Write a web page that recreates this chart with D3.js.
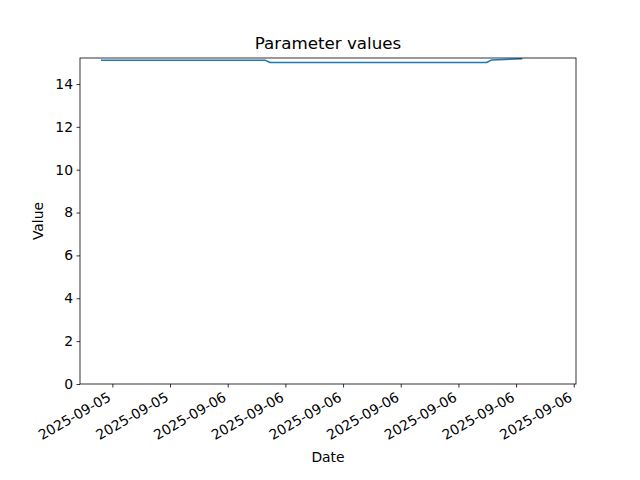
<!DOCTYPE html>
<html>
<head>
<meta charset="utf-8">
<script src="https://cdn.jsdelivr.net/npm/d3@7"></script>
<style>
  html, body { margin: 0; padding: 0; background: #fff; }
  text { font-family: "DejaVu Sans", sans-serif; fill: #000; }
</style>
</head>
<body>
<svg id="chart" width="640" height="480"></svg>
<script>
// ---- data ----
const times = [
  "2025-09-05 17:27",
  "2025-09-06 01:58",
  "2025-09-06 02:12",
  "2025-09-06 13:28",
  "2025-09-06 13:44",
  "2025-09-06 15:17"
];
const values = [15.1, 15.1, 15.0, 15.0, 15.12, 15.17];
const xDomain = ["2025-09-05 16:19", "2025-09-06 18:07"];
const yDomain = [0, 15.21];
const yTicks = [0, 2, 4, 6, 8, 10, 12, 14];
const xTicks = [
  "2025-09-05 18:00", "2025-09-05 21:00", "2025-09-06 00:00",
  "2025-09-06 03:00", "2025-09-06 06:00", "2025-09-06 09:00",
  "2025-09-06 12:00", "2025-09-06 15:00", "2025-09-06 18:00"
];
const titleText = "Parameter values";
const xLabel = "Date";
const yLabel = "Value";

// ---- drawing ----
const parse = d3.utcParse("%Y-%m-%d %H:%M");
const fmt = d3.utcFormat("%Y-%m-%d");
const data = times.map((t, i) => ({ t: parse(t), v: values[i] }));

const L = 80, R = 576, T = 58, B = 384;
const svg = d3.select("#chart");

const x = d3.scaleUtc().domain(xDomain.map(parse)).range([L, R]);
const y = d3.scaleLinear().domain(yDomain).range([B, T]);

svg.append("defs").append("clipPath").attr("id", "clip")
  .append("rect").attr("x", L).attr("y", T).attr("width", R - L).attr("height", B - T);

svg.append("path")
  .datum(data)
  .attr("clip-path", "url(#clip)")
  .attr("fill", "none")
  .attr("stroke", "#1f77b4")
  .attr("stroke-width", 1.5)
  .attr("stroke-linejoin", "round")
  .attr("stroke-linecap", "square")
  .attr("d", d3.line().x(d => x(d.t)).y(d => y(d.v)));

// y axis
const yAxis = svg.append("g")
  .attr("transform", `translate(${L},0)`)
  .call(d3.axisLeft(y).tickValues(yTicks).tickSize(3.5).tickPadding(3.5).tickFormat(d3.format("d")));
yAxis.select(".domain").remove();
yAxis.selectAll("line").attr("stroke", "#000").attr("stroke-width", 0.8);
yAxis.selectAll("text").attr("font-size", "13.9px").attr("font-family", "DejaVu Sans").attr("fill", "#000");

// x axis
const xAxis = svg.append("g")
  .attr("transform", `translate(0,${B})`)
  .call(d3.axisBottom(x).tickValues(xTicks.map(parse)).tickSize(3.5).tickFormat(fmt));
xAxis.select(".domain").remove();
xAxis.selectAll("line").attr("stroke", "#000").attr("stroke-width", 0.8);
xAxis.selectAll("text")
  .attr("font-size", "13.9px")
  .attr("font-family", "DejaVu Sans")
  .attr("fill", "#000")
  .attr("text-anchor", "end")
  .attr("y", 0).attr("dy", 0)
  .attr("transform", "translate(-1,16) rotate(-30)");

// frame
svg.append("rect")
  .attr("x", L).attr("y", T).attr("width", R - L).attr("height", B - T)
  .attr("fill", "none").attr("stroke", "#000").attr("stroke-width", 0.8);

// title & labels
svg.append("text").attr("x", (L + R) / 2).attr("y", 48.5)
  .attr("text-anchor", "middle").attr("font-size", "16.7px").text(titleText);
svg.append("text").attr("x", (L + R) / 2).attr("y", 462)
  .attr("text-anchor", "middle").attr("font-size", "13.9px").text(xLabel);
svg.append("text")
  .attr("transform", `translate(43,${(T + B) / 2}) rotate(-90)`)
  .attr("text-anchor", "middle").attr("font-size", "13.9px").text(yLabel);
</script>
</body>
</html>
